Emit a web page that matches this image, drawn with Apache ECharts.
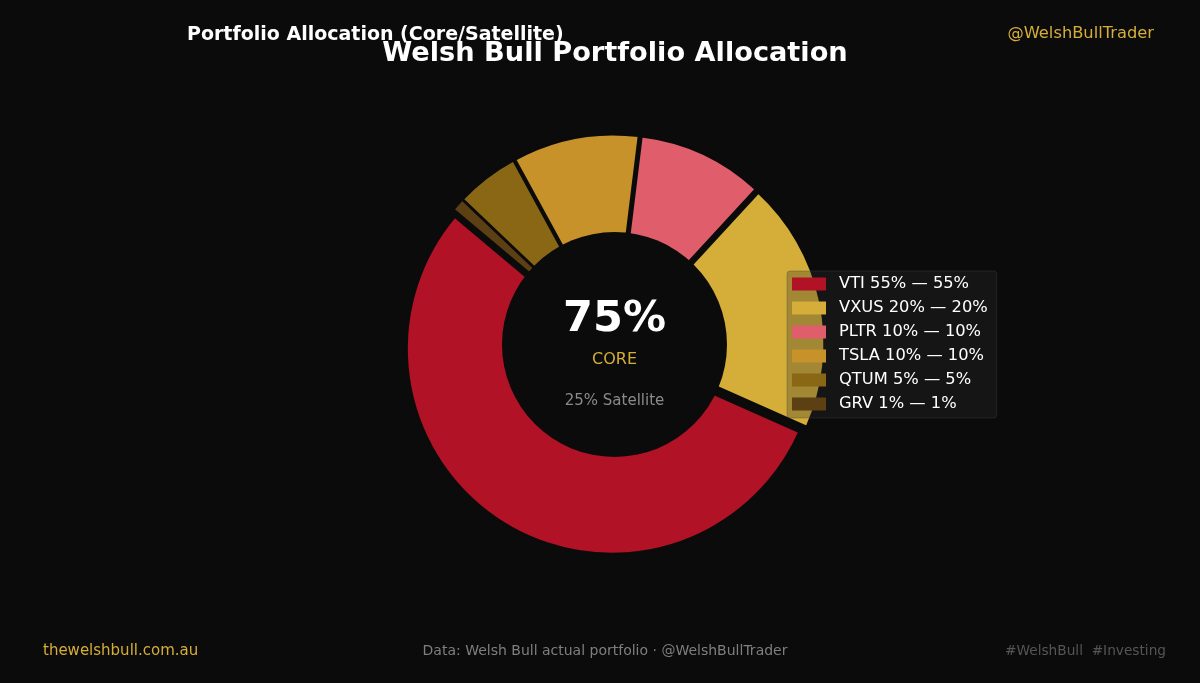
<!DOCTYPE html>
<html>
<head>
<meta charset="utf-8">
<script src="https://cdn.jsdelivr.net/npm/echarts@6/dist/echarts.min.js"></script>
<style>
html,body{margin:0;padding:0;background:#0b0b0b;}
#chart{width:1200px;height:683px;}
</style>
</head>
<body>
<div id="chart"></div>
<script>
const tickers = ['VTI', 'VXUS', 'PLTR', 'TSLA', 'QTUM', 'GRV'];
const weights = [55, 20, 10, 10, 5, 1];
const colors = ['#b11226', '#d4ae38', '#e05d6c', '#c8922b', '#8a6714', '#5c3f12'];
const corePct = '75%';
const coreLabel = 'CORE';
const satelliteLabel = '25% Satellite';

const FONT = 'DejaVu Sans';
const chart = echarts.init(document.getElementById('chart'));

const pieData = tickers.map((t, i) => ({
  name: t,
  value: weights[i],
  selected: true,
  itemStyle: { color: colors[i] }
}));

function txt(x, y, text, color, size, weight, align, z) {
  return {
    type: 'text', x: x, y: y, z: z || 5,
    style: {
      text: text, fill: color, fontFamily: FONT, fontSize: size,
      fontWeight: weight || 'normal', align: align || 'left', verticalAlign: 'middle'
    }
  };
}

const option = {
  backgroundColor: '#0b0b0b',
  animation: false,
  textStyle: { fontFamily: FONT },
  legend: {
    data: tickers,
    orient: 'vertical',
    left: 787,
    top: 271,
    itemWidth: 34,
    itemHeight: 13,
    itemGap: 8,
    padding: [5, 9, 6, 5],
    backgroundColor: 'rgba(48,48,48,0.3)',
    borderColor: 'rgba(70,70,70,0.35)',
    borderWidth: 1,
    borderRadius: 3,
    selectedMode: false,
    icon: 'rect',
    itemStyle: { borderWidth: 0 },
    formatter: function (name) {
      const v = weights[tickers.indexOf(name)];
      return name + ' ' + v + '% \u2014 ' + v + '%';
    },
    textStyle: { color: '#ffffff', fontSize: 16.3, fontFamily: FONT, lineHeight: 16, padding: [0, 0, 0, 8] }
  },
  series: [
    {
      type: 'pie',
      center: [614.5, 344.5],
      radius: [0, 205],
      startAngle: 140,
      clockwise: false,
      selectedMode: 'multiple',
      selectedOffset: 5,
      avoidLabelOverlap: false,
      label: { show: false },
      labelLine: { show: false },
      itemStyle: { borderColor: '#0b0b0b', borderWidth: 2 },
      emphasis: { disabled: true },
      data: pieData,
      z: 2
    },
    {
      type: 'pie',
      center: [614.5, 344.5],
      radius: [0, 112.5],
      silent: true,
      label: { show: false },
      labelLine: { show: false },
      emphasis: { disabled: true },
      data: [{ name: 'hole', value: 1, itemStyle: { color: '#0b0b0b' } }],
      z: 3
    }
  ],
  graphic: [
    txt(187, 35, 'Portfolio Allocation (Core/Satellite)', '#ffffff', 19, 'bold', 'left'),
    txt(615, 54, 'Welsh Bull Portfolio Allocation', '#ffffff', 27.2, 'bold', 'center'),
    txt(1154, 34, '@WelshBullTrader', '#d4ae38', 16.3, 'normal', 'right'),
    txt(614.5, 320, corePct, '#ffffff', 43, 'bold', 'center', 10),
    txt(614.5, 360, coreLabel, '#d4ae38', 16, 'normal', 'center', 10),
    txt(614.5, 401, satelliteLabel, '#8a8a8a', 15, 'normal', 'center', 10),
    txt(43, 651, 'thewelshbull.com.au', '#d4ae38', 15, 'normal', 'left'),
    txt(605, 651, 'Data: Welsh Bull actual portfolio \u00b7 @WelshBullTrader', '#7f7f7f', 14, 'normal', 'center'),
    txt(1166, 651, '#WelshBull  #Investing', '#555555', 13.7, 'normal', 'right')
  ]
};
chart.setOption(option);
</script>
</body>
</html>
